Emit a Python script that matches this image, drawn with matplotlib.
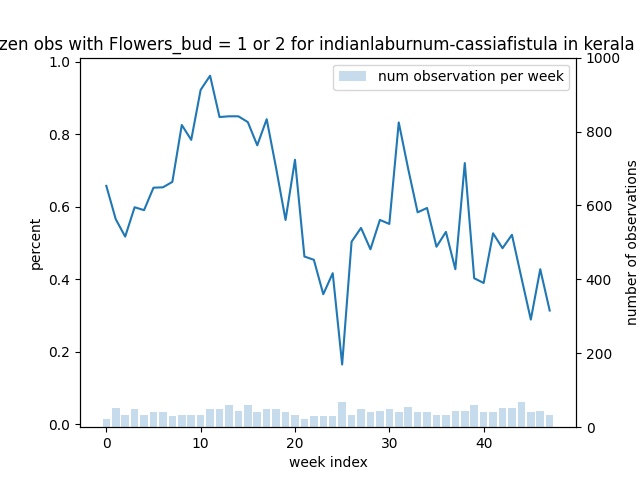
import matplotlib
matplotlib.use("Agg")
import matplotlib.pyplot as plt
import numpy as np

# weekly share of observations with flower buds
percent = [
    0.658, 0.566, 0.518, 0.599, 0.591, 0.653, 0.654, 0.669, 0.826, 0.785,
    0.923, 0.962, 0.848, 0.850, 0.850, 0.834, 0.770, 0.842, 0.707, 0.564,
    0.730, 0.463, 0.454, 0.359, 0.417, 0.165, 0.504, 0.542, 0.483, 0.564,
    0.553, 0.833, 0.705, 0.585, 0.597, 0.490, 0.531, 0.428, 0.721, 0.403,
    0.390, 0.527, 0.486, 0.523, 0.405, 0.289, 0.428, 0.314,
]

# number of observations per week
num_obs = [
    23, 53, 32, 50, 32, 40, 42, 29, 32, 32,
    34, 48, 50, 59, 45, 59, 42, 48, 48, 40,
    32, 23, 29, 29, 29, 67, 32, 48, 42, 45,
    50, 40, 56, 42, 40, 34, 34, 45, 45, 59,
    42, 40, 53, 53, 69, 40, 45, 32,
]

weeks = np.arange(len(percent))

fig, ax = plt.subplots(figsize=(6.4, 4.8), dpi=100)
ax.plot(weeks, percent, color="C0")
ax.set_ylim(-0.008, 1.012)
ax.set_xlabel("week index")
ax.set_ylabel("percent")

ax2 = ax.twinx()
ax2.bar(weeks, num_obs, color="C0", alpha=0.25, label="num observation per week")
ax2.set_ylim(0, 1000)
ax2.set_ylabel("number of observations")
ax2.legend(loc="upper right")

# title is wider than the figure; shifted so the same part shows as in the original
ax.set_title(
    "Percent of citizen obs with Flowers_bud = 1 or 2 for "
    "indianlaburnum-cassiafistula in kerala",
    x=0.363,
)

fig.savefig("out.png", dpi=100)
